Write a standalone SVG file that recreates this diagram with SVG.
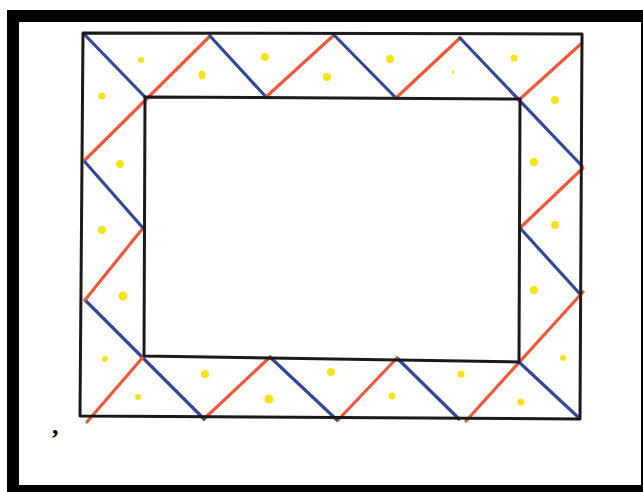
<svg xmlns="http://www.w3.org/2000/svg" width="643" height="492" viewBox="0 0 643 492">
<style>
.frame{fill:none;stroke:#1a1a1a;stroke-width:3;stroke-linejoin:round}
.b{stroke:#34489a;stroke-width:3.2;stroke-linecap:round;fill:none}
.r{stroke:#ec5a3c;stroke-width:3.2;stroke-linecap:round;fill:none}
.dot{fill:#f4e31a}
</style>
<rect x="7" y="10" width="636" height="482" fill="#000"/>
<rect x="19" y="22" width="622" height="463" fill="#fff"/>
<g id="zigzag">
  <line class="b" x1="84" y1="34" x2="145" y2="97"/>
  <line class="r" x1="85" y1="160" x2="210" y2="36"/>
  <line class="b" x1="210" y1="36" x2="266" y2="97"/>
  <line class="r" x1="266" y1="97" x2="334" y2="35"/>
  <line class="b" x1="334" y1="35" x2="396" y2="98"/>
  <line class="r" x1="396" y1="98" x2="460" y2="38"/>
  <line class="b" x1="460" y1="38" x2="582" y2="166"/>
  <line class="r" x1="520" y1="99" x2="582" y2="43"/>
  <line class="r" x1="583" y1="168" x2="520" y2="228"/>
  <line class="b" x1="520" y1="228" x2="580" y2="294"/>
  <line class="r" x1="583" y1="292" x2="466" y2="421"/>
  <line class="b" x1="519" y1="362" x2="578" y2="417"/>
  <line class="b" x1="397" y1="358" x2="459" y2="419"/>
  <line class="r" x1="338" y1="420" x2="397" y2="358"/>
  <line class="b" x1="270" y1="357" x2="337" y2="420"/>
  <line class="r" x1="204" y1="419" x2="270" y2="357"/>
  <line class="b" x1="85" y1="300" x2="204" y2="419"/>
  <line class="r" x1="87" y1="422" x2="144" y2="356"/>
  <line class="r" x1="85" y1="300" x2="143" y2="228"/>
  <line class="b" x1="143" y1="228" x2="85" y2="162"/>
</g>
<g id="frame">
  <path class="frame" d="M83,33 L582,34 L580,419 L80,416 Z"/>
  <path class="frame" d="M145,97 L520,99 L519,362 L144,356 Z"/>
</g>
<g id="dots">
  <circle class="dot" cx="141" cy="60" r="3"/>
  <ellipse class="dot" cx="202" cy="75" rx="3.5" ry="4.5"/>
  <circle class="dot" cx="265" cy="57" r="4"/>
  <circle class="dot" cx="327" cy="77" r="4"/>
  <circle class="dot" cx="390" cy="59" r="4"/>
  <circle class="dot" cx="453" cy="72" r="1.5"/>
  <circle class="dot" cx="514" cy="58" r="3.5"/>
  <circle class="dot" cx="555" cy="100" r="4"/>
  <circle class="dot" cx="534" cy="162" r="4"/>
  <circle class="dot" cx="555" cy="225" r="4"/>
  <circle class="dot" cx="534" cy="290" r="4"/>
  <circle class="dot" cx="563" cy="358" r="3"/>
  <circle class="dot" cx="521" cy="402" r="3.5"/>
  <circle class="dot" cx="461" cy="374" r="3.5"/>
  <circle class="dot" cx="392" cy="396" r="3.5"/>
  <circle class="dot" cx="331" cy="372" r="4"/>
  <circle class="dot" cx="269" cy="399" r="4.5"/>
  <circle class="dot" cx="205" cy="374" r="4"/>
  <circle class="dot" cx="138" cy="397" r="3"/>
  <circle class="dot" cx="105" cy="359" r="3"/>
  <circle class="dot" cx="123" cy="296" r="4.5"/>
  <circle class="dot" cx="102" cy="230" r="4"/>
  <circle class="dot" cx="120" cy="164" r="4"/>
  <circle class="dot" cx="102" cy="96" r="3.5"/>
</g>
<text x="52" y="434" font-family="Liberation Serif, serif" font-size="26" font-weight="bold" fill="#000">,</text>
</svg>
